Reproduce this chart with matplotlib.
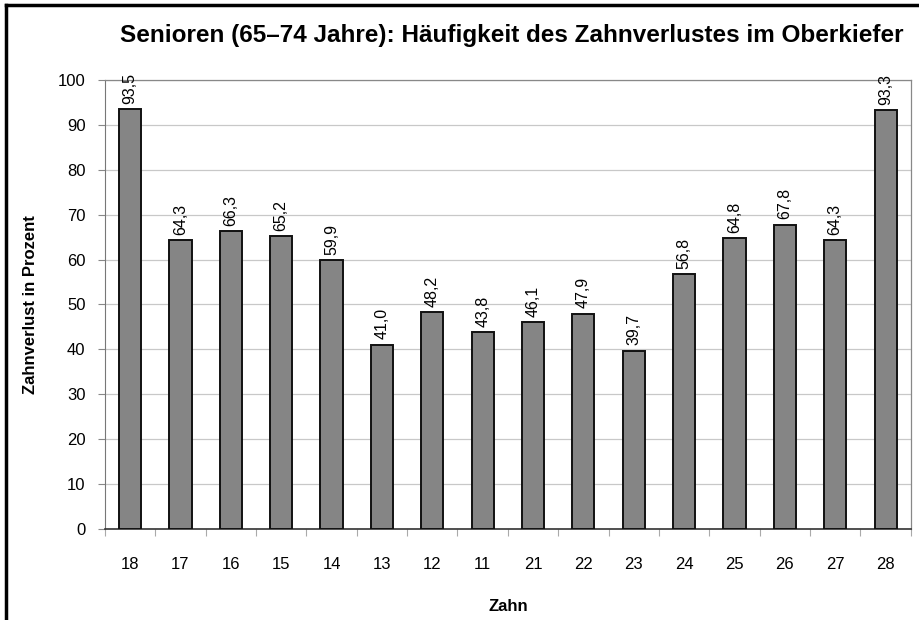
import numpy as np
import matplotlib.pyplot as plt
from matplotlib.lines import Line2D

plt.rcParams['font.family'] = ['Liberation Sans', 'DejaVu Sans']

# data
zaehne = ['18', '17', '16', '15', '14', '13', '12', '11',
          '21', '22', '23', '24', '25', '26', '27', '28']
verlust = [93.5, 64.3, 66.3, 65.2, 59.9, 41.0, 48.2, 43.8,
           46.1, 47.9, 39.7, 56.8, 64.8, 67.8, 64.3, 93.3]
yticks = list(range(0, 101, 10))

fig = plt.figure(figsize=(9.2, 6.2), dpi=100)
ax = fig.add_axes([0.114, 0.147, 0.876, 0.724])

x = np.arange(len(zaehne))
ax.bar(x, verlust, width=0.44, color='#858585', edgecolor='#111111',
       linewidth=1.4, zorder=3)

for xi, v in zip(x, verlust):
    ax.text(xi, v + 1.2, f'{v:.1f}'.replace('.', ','), rotation=90,
            ha='center', va='bottom', fontsize=11.5, zorder=4)

ax.set_xlim(-0.5, len(zaehne) - 0.5)
ax.set_ylim(0, 100)
ax.set_yticks(yticks)
ax.tick_params(axis='y', length=5, color='#888888', labelsize=12, pad=9)
ax.yaxis.grid(True, color='#c8c8c8', linewidth=0.9, zorder=0)

# category labels between boundary ticks
ax.set_xticks(np.arange(-0.5, len(zaehne), 1.0))
ax.set_xticklabels([])
ax.tick_params(axis='x', length=5, color='#aaaaaa', direction='out')
ax.set_xticks(x, minor=True)
ax.set_xticklabels(zaehne, minor=True, fontsize=12)
ax.tick_params(axis='x', which='minor', length=0, pad=20)

for s in ['top', 'right']:
    ax.spines[s].set_color('#888888')
    ax.spines[s].set_linewidth(0.9)
ax.spines['left'].set_color('#777777')
ax.spines['bottom'].set_color('#333333')
ax.spines['bottom'].set_linewidth(1.2)

ax.set_ylabel('Zahnverlust in Prozent', fontsize=12, fontweight='bold', labelpad=14)
ax.set_xlabel('Zahn', fontsize=12, fontweight='bold', labelpad=20)

fig.text(0.556, 0.943, 'Senioren (65–74 Jahre): Häufigkeit des Zahnverlustes im Oberkiefer',
         ha='center', va='center', fontsize=17.5, fontweight='bold')

# outer frame (left and top edges)
fig.add_artist(Line2D([0.007, 0.007], [0, 0.992], transform=fig.transFigure,
                      color='black', linewidth=2.5))
fig.add_artist(Line2D([0.007, 1.0], [0.992, 0.992], transform=fig.transFigure,
                      color='black', linewidth=2.5))

fig.savefig('out.png', dpi=100)
